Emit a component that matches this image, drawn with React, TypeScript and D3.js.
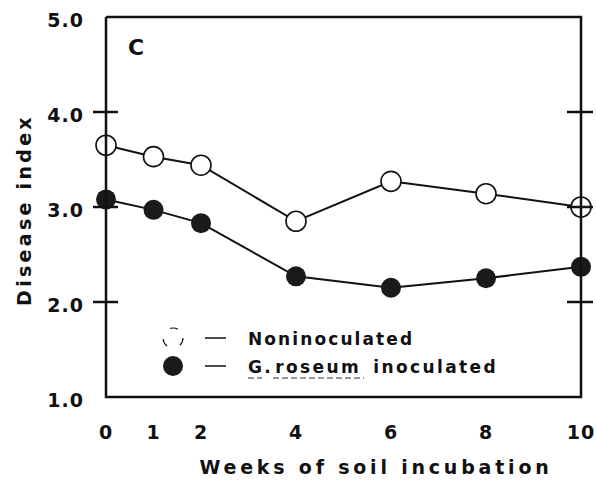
import React from 'react';
import * as d3 from 'd3';

const weeks = [0, 1, 2, 4, 6, 8, 10];
const noninoculated = [3.65, 3.53, 3.44, 2.85, 3.27, 3.14, 3.0];
const inoculated = [3.08, 2.97, 2.83, 2.27, 2.15, 2.25, 2.37];
const yTicks = [1, 2, 3, 4, 5];
const yCrossTicks = [2, 3, 4];
const xTickLabels = ['0', '1', '2', '4', '6', '8', '10'];

const W = 596;
const H = 481;
const FONT = '"DejaVu Sans", "Liberation Sans", sans-serif';

const App: React.FC = () => {
  const x = d3.scaleLinear().domain([0, 10]).range([106, 581]);
  const y = d3.scaleLinear().domain([1, 5]).range([397, 17]);

  const line = d3.line<number>()
    .x((_: number, i: number) => x(weeks[i]))
    .y((d: number) => y(d));

  const [x0, x1] = x.range();
  const [y0, y1] = y.range();

  return (
    <svg width={W} height={H} style={{ position: 'absolute', left: 0, top: 0, background: '#fff' }}
      fontFamily={FONT} fontWeight="bold">
      {/* series lines */}
      <path d={line(noninoculated) || ''} fill="none" stroke="#111" strokeWidth={2} />
      <path d={line(inoculated) || ''} fill="none" stroke="#111" strokeWidth={2} />

      {/* markers */}
      {noninoculated.map((v, i) => (
        <circle key={`n${i}`} cx={x(weeks[i])} cy={y(v)} r={10} fill="#fff" stroke="#111" strokeWidth={1.6} />
      ))}
      {inoculated.map((v, i) => (
        <circle key={`g${i}`} cx={x(weeks[i])} cy={y(v)} r={10} fill="#1a1a1a" />
      ))}

      {/* frame, drawn over the markers so the axis shows through open circles */}
      <path d={`M${x0},${y1} V${y0} H${x1} V${y1} H${x0}`} fill="none" stroke="#111" strokeWidth={2.5} />

      {/* crossing ticks on both sides */}
      {yCrossTicks.map(t => (
        <g key={t}>
          <line x1={x0 - 13} x2={x0 + 12} y1={y(t)} y2={y(t)} stroke="#111" strokeWidth={2.5} />
          <line x1={x1 - 14} x2={x1 + 12} y1={y(t)} y2={y(t)} stroke="#111" strokeWidth={2.5} />
        </g>
      ))}

      {/* y tick labels */}
      {yTicks.map(t => (
        <text key={t} x={84} y={y(t) + 10} textAnchor="end" fontSize={19} letterSpacing={1} fill="#111">
          {t.toFixed(1)}
        </text>
      ))}

      {/* x tick labels */}
      {weeks.map((w, i) => (
        <text key={w} x={x(w)} y={439} textAnchor="middle" fontSize={19} letterSpacing={1} fill="#111">
          {xTickLabels[i]}
        </text>
      ))}

      {/* axis titles */}
      <text x={376} y={474} textAnchor="middle" fontSize={19} letterSpacing={3.8} fill="#111">
        Weeks of soil incubation
      </text>
      <text transform={`translate(31,210) rotate(-90)`} textAnchor="middle" fontSize={19} letterSpacing={3.3} fill="#111">
        Disease index
      </text>

      {/* panel letter */}
      <text x={128} y={55} fontSize={22} fill="#111">C</text>

      {/* legend */}
      <circle cx={173} cy={338} r={10} fill="#fff" stroke="#111" strokeWidth={1.2} strokeDasharray="8 14" />
      <line x1={205} x2={226} y1={338} y2={338} stroke="#111" strokeWidth={1.5} />
      <text x={248} y={345} fontSize={17} letterSpacing={2.1} fill="#111">Noninoculated</text>

      <circle cx={173} cy={366} r={10} fill="#1a1a1a" />
      <line x1={205} x2={226} y1={366} y2={366} stroke="#111" strokeWidth={1.5} />
      <text x={248} y={373} fontSize={17} letterSpacing={2.4} fill="#111">
        G.<tspan dx={2}>roseum</tspan>
        <tspan dx={12}>inoculated</tspan>
      </text>
      <line x1={248} x2={262} y1={378} y2={378} stroke="#333" strokeWidth={1} strokeDasharray="6 3" />
      <line x1={273} x2={364} y1={378} y2={378} stroke="#333" strokeWidth={1} strokeDasharray="6 3" />
    </svg>
  );
};

export default App;
